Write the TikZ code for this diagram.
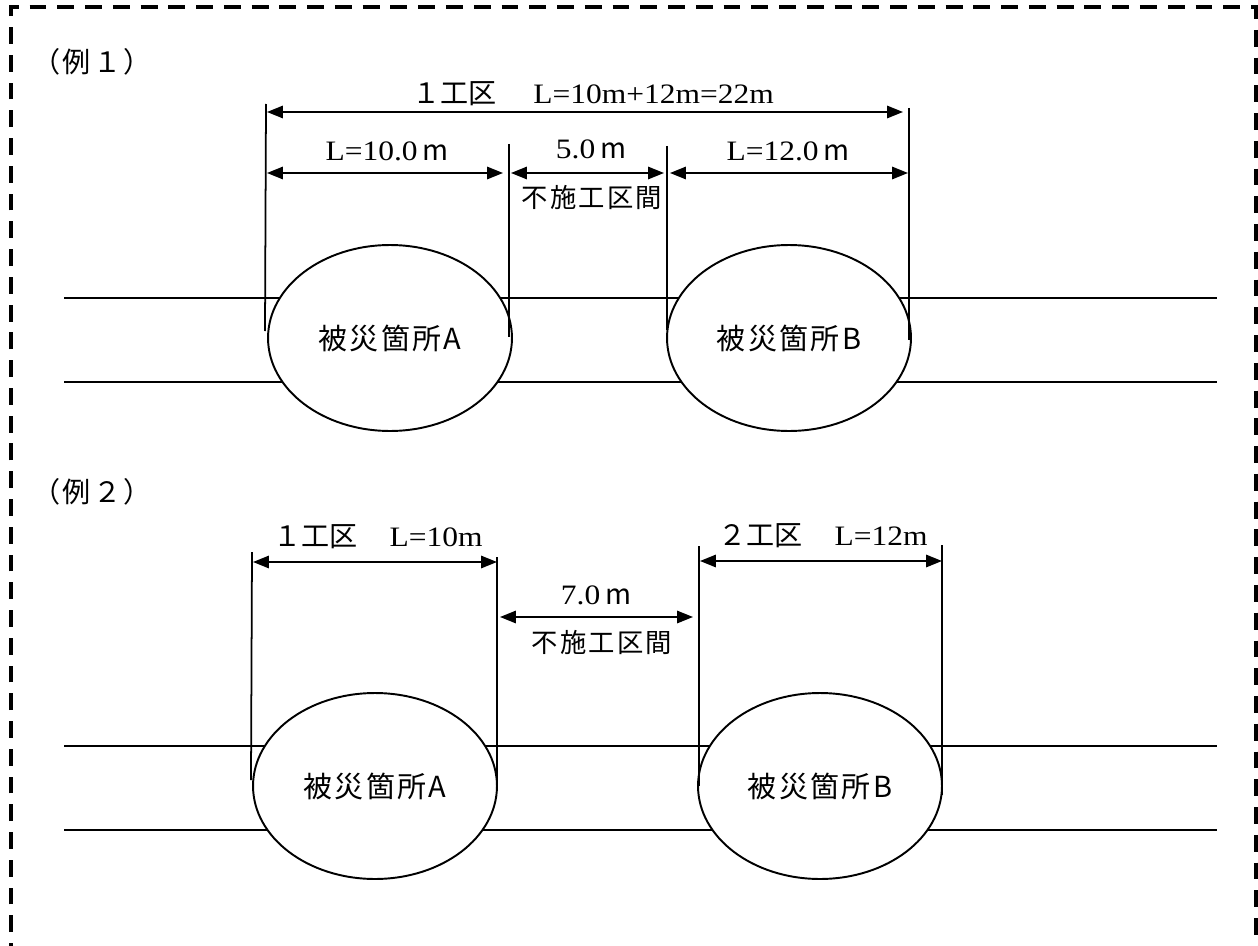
\documentclass[tikz,border=0pt]{standalone}
\usepackage{fontspec}
\setmainfont{Liberation Serif}[FakeStretch=1.12]
\newfontfamily\cjk{Noto Sans CJK JP}
\newfontfamily\cjksp{Noto Sans CJK JP}[LetterSpace=8]
\usetikzlibrary{arrows.meta,shapes.geometric}
\newcommand\um{{\cjk m}}
\tikzset{
  frame/.style={line width=2.2pt,dash pattern=on 9.6pt off 6.2pt},
  road/.style={line width=0.9pt},
  site/.style={ellipse,draw,line width=1.1pt,fill=white,minimum width=4.88cm,
    minimum height=3.72cm,inner sep=0pt,font=\cjksp\fontsize{16.5}{19}\selectfont},
  extline/.style={line width=1pt},
  dim/.style={line width=1pt,
    {Triangle[length=9pt,width=7pt]}-{Triangle[length=9pt,width=7pt]}},
  jp/.style={font=\cjksp\fontsize{15}{18}\selectfont,inner sep=0pt},
  lbl/.style={font=\fontsize{16}{19}\selectfont,inner sep=0pt},
}
\begin{document}
\begin{tikzpicture}[x=0.02cm,y=-0.02cm]
      \useasboundingbox (0,0) rectangle (1258,946);
      \draw[frame] (11,960) -- (11,7) -- (1256,7) -- (1256,960);
      \draw
        (64,298) coordinate (r1a) (1217,298) coordinate (r1b)
        (64,382) coordinate (r1c) (1217,382) coordinate (r1d)
        (64,746) coordinate (r2a) (1217,746) coordinate (r2b)
        (64,830) coordinate (r2c) (1217,830) coordinate (r2d);
      \begin{scope}[road]
        \draw (r1a) to (r1b);
        \draw (r1c) to (r1d);
        \draw (r2a) to (r2b);
        \draw (r2c) to (r2d);
      \end{scope}
      \node[jp,font=\cjksp\fontsize{16}{19}\selectfont] (ex1) at (92,62) {（例１）};
      \node[site] (a1) at (390,338) {被災箇所A};
      \node[site] (b1) at (789,338) {被災箇所B};
      \node[jp,font=\cjksp\fontsize{16}{19}\selectfont] (ex2) at (92,492) {（例２）};
      \node[site] (a2) at (375,786) {被災箇所A};
      \node[site] (b2) at (820,786) {被災箇所B};
      \draw
        (266,104) coordinate (p1) (265,331) coordinate (q1)
        (509,144) coordinate (p2) (509,337) coordinate (q2)
        (667,146) coordinate (p3) (667,330) coordinate (q3)
        (909,108) coordinate (p4) (909,340) coordinate (q4)
        (252,552) coordinate (p5) (251,780) coordinate (q5)
        (497,557) coordinate (p6) (497,786) coordinate (q6)
        (699,546) coordinate (p7) (699,786) coordinate (q7)
        (942,545) coordinate (p8) (942,795) coordinate (q8);
      \begin{scope}[extline]
        \draw (p1) to (q1);
        \draw (p2) to (q2);
        \draw (p3) to (q3);
        \draw (p4) to (q4);
        \draw (p5) to (q5);
        \draw (p6) to (q6);
        \draw (p7) to (q7);
        \draw (p8) to (q8);
      \end{scope}
      \draw
        (267,112) coordinate (s1) (903,112) coordinate (t1)
        (267,173) coordinate (s2) (503,173) coordinate (t2)
        (511,173) coordinate (s3) (664,173) coordinate (t3)
        (670,173) coordinate (s4) (908,173) coordinate (t4)
        (253,562) coordinate (s5) (497,562) coordinate (t5)
        (500,617) coordinate (s6) (693,617) coordinate (t6)
        (700,561) coordinate (s7) (942,561) coordinate (t7);
      \begin{scope}[dim]
        \draw (s1) to (t1);
        \draw (s2) to (t2);
        \draw (s3) to (t3);
        \draw (s4) to (t4);
        \draw (s5) to (t5);
        \draw (s6) to (t6);
        \draw (s7) to (t7);
      \end{scope}
      \node[lbl] (w1) at (593,94) {{\cjk １工区}\hspace{0.74cm}L=10m+12m=22m};
      \node[lbl] (w2) at (387,151) {L=10.0\,\um};
      \node[lbl] (w3) at (591,149) {5.0\,\um};
      \node[jp] (w4) at (592,197) {不施工区間};
      \node[lbl] (w5) at (788,151) {L=12.0\,\um};
      \node[lbl] (w6) at (378,537) {{\cjk １工区}\hspace{0.64cm}L=10m};
      \node[lbl] (w7) at (596,595) {7.0\,\um};
      \node[jp] (w8) at (602,642) {不施工区間};
      \node[lbl] (w9) at (823,536) {{\cjk ２工区}\hspace{0.64cm}L=12m};
    \end{tikzpicture}
\end{document}
